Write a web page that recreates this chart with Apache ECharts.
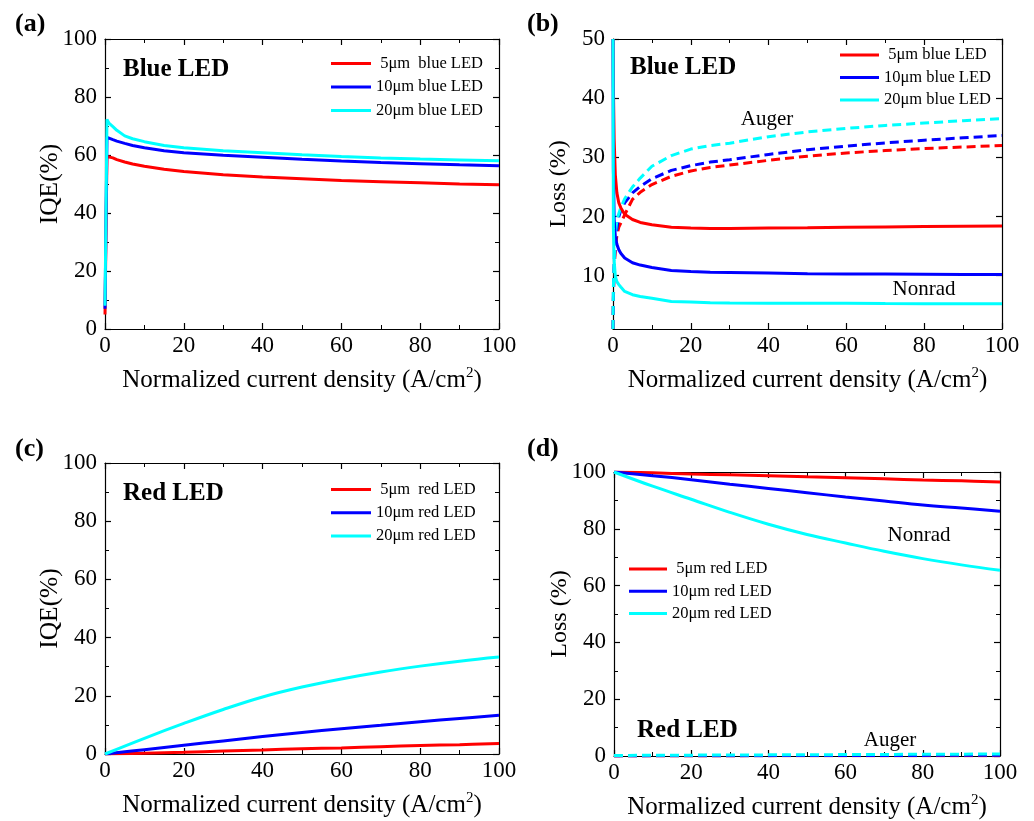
<!DOCTYPE html>
<html>
<head>
<meta charset="utf-8">
<script src="https://cdn.jsdelivr.net/npm/echarts@6/dist/echarts.min.js"></script>
<style>
html,body{margin:0;padding:0;background:#fff;}
#c{width:1034px;height:821px;}
</style>
</head>
<body>
<div id="c"></div>
<script>
// ---------- DATA ----------
// Panel (a): IQE of blue LEDs
const xA = [0, 0.5, 1, 2, 3, 5, 7, 10, 15, 20, 30, 40, 50, 60, 70, 80, 90, 100];
const aRed  = [5, 59.5, 59.6, 59.0, 58.4, 57.6, 56.9, 56.1, 55.1, 54.3, 53.2, 52.4, 51.8, 51.2, 50.8, 50.4, 50.0, 49.7];
const aBlue = [7, 66.1, 65.8, 65.3, 64.8, 64.0, 63.3, 62.5, 61.5, 60.8, 59.9, 59.2, 58.5, 57.9, 57.4, 57.0, 56.6, 56.3];
const aCyan = [8, 72.3, 71.0, 69.8, 68.5, 66.6, 65.6, 64.6, 63.3, 62.5, 61.5, 60.8, 60.1, 59.5, 59.0, 58.6, 58.3, 58.0];

// Panel (b): losses of blue LEDs (solid = Nonrad, dashed = Auger)
const xB = [0, 0.1, 0.3, 0.6, 1, 1.5, 2, 3, 5, 7, 10, 15, 20, 25, 30, 40, 50, 60, 70, 80, 90, 100];
const bRedNon  = [50, 42, 33, 27, 24, 22.3, 21.5, 20.4, 19.5, 19.0, 18.6, 18.2, 18.05, 18.0, 18.0, 18.05, 18.1, 18.2, 18.25, 18.3, 18.35, 18.4];
const bBlueNon = [50, 28, 19.5, 16.6, 15.3, 14.4, 13.8, 13.0, 12.2, 11.8, 11.4, 10.9, 10.7, 10.6, 10.55, 10.45, 10.35, 10.3, 10.3, 10.25, 10.2, 10.2];
const bCyanNon = [50, 18, 12.5, 9.9, 9.0, 8.5, 8.1, 7.35, 6.8, 6.5, 6.2, 5.65, 5.55, 5.45, 5.4, 5.37, 5.35, 5.33, 5.3, 5.28, 5.27, 5.26];
const bRedAug  = [1, 6, 11, 14.5, 16.8, 18.2, 18.9, 20.3, 22.9, 24.1, 25.4, 26.8, 27.7, 28.3, 28.7, 29.5, 30.2, 30.75, 31.15, 31.5, 31.75, 32.0];
const bBlueAug = [1, 7, 12, 15.5, 18, 20, 21, 22.3, 24.0, 25.1, 26.4, 27.8, 28.6, 29.2, 29.6, 30.5, 31.3, 31.9, 32.45, 32.9, 33.3, 33.7];
const bCyanAug = [1, 8, 13, 17, 19.5, 20.5, 21.5, 23.0, 25.0, 26.5, 28.5, 30.3, 31.4, 32.0, 32.4, 33.5, 34.3, 34.9, 35.4, 35.8, 36.2, 36.55];

// Panel (c): IQE of red LEDs
const xC = [0, 10, 20, 30, 40, 50, 60, 70, 80, 90, 100];
const cRed  = [0, 0.3, 0.6, 1.0, 1.4, 1.8, 2.1, 2.5, 2.9, 3.2, 3.6];
const cBlue = [0, 1.5, 3.0, 4.5, 6.0, 7.4, 8.7, 9.9, 11.1, 12.2, 13.3];
const cCyan = [0, 5.4, 10.5, 15.3, 19.6, 23.0, 25.8, 28.2, 30.2, 31.9, 33.3];

// Panel (d): losses of red LEDs
const xD = [0, 10, 20, 30, 40, 50, 60, 70, 80, 90, 100];
const dRedNon  = [100, 99.7, 99.3, 99.0, 98.7, 98.3, 98.0, 97.6, 97.2, 96.9, 96.5];
const dBlueNon = [100, 98.7, 97.3, 95.7, 94.2, 92.7, 91.2, 89.8, 88.4, 87.3, 86.2];
const dCyanNon = [100, 95.0, 90.4, 85.8, 81.6, 78.0, 75.0, 72.1, 69.5, 67.3, 65.4];
const dRedAug  = [0, 0.02, 0.03, 0.04, 0.05, 0.06, 0.07, 0.08, 0.09, 0.1, 0.1];
const dBlueAug = [0, 0.05, 0.08, 0.1, 0.13, 0.15, 0.18, 0.2, 0.22, 0.24, 0.26];
const dCyanAug = [0.2, 0.25, 0.3, 0.35, 0.4, 0.45, 0.5, 0.55, 0.6, 0.65, 0.7];

// Tick labels
const xTicks = [0, 20, 40, 60, 80, 100];
const yTicksIQE = [0, 20, 40, 60, 80, 100];
const yTicksB = [10, 20, 30, 40, 50];

// Legend labels
const legA = [' 5\u03bcm  blue LED', '10\u03bcm blue LED', '20\u03bcm blue LED'];
const legB = [' 5\u03bcm blue LED', '10\u03bcm blue LED ', '20\u03bcm blue LED '];
const legC = [' 5\u03bcm  red LED', '10\u03bcm red LED', '20\u03bcm red LED'];
const legD = [' 5\u03bcm red LED', '10\u03bcm red LED ', '20\u03bcm red LED '];

// ---------- CHART ----------
const FF = '"Liberation Serif","Times New Roman",serif';
const RED = '#ff0000', BLUE = '#0000ff', CYAN = '#00ffff';
const chart = echarts.init(document.getElementById('c'), null, {renderer: 'canvas'});

const grids = [
  {left: 105, top: 39, width: 394, height: 290},
  {left: 613, top: 39, width: 389, height: 290},
  {left: 105, top: 463, width: 394, height: 291},
  {left: 614, top: 472, width: 386, height: 287}
];
const yNames = ['IQE(%)', 'Loss (%)', 'IQE(%)', 'Loss (%)'];
const yNameGaps = [42, 42, 42, 42];

const xName = '{n|Normalized current density (A/cm}{s|2}{n|)}';
const xNameStyle = {rich: {
  n: {fontSize: 25, fontFamily: FF, color: '#000', lineHeight: 28, verticalAlign: 'bottom'},
  s: {fontSize: 15, fontFamily: FF, color: '#000', lineHeight: 15, padding: [0, 0, 12, 0], verticalAlign: 'bottom'}
}};

function lineStyleAx() { return {color: '#000', width: 1.2}; }
const labelStyle = {fontSize: 23, fontFamily: FF, color: '#000'};

const xAxes = [], yAxes = [];
grids.forEach((g, i) => {
  const base = {
    type: 'value', gridIndex: i, min: 0, max: 100, interval: 20,
    axisLine: {show: true, onZero: false, lineStyle: lineStyleAx()},
    axisTick: {show: true, inside: true, length: 6, lineStyle: lineStyleAx()},
    minorTick: {show: true, splitNumber: 2, length: 4, lineStyle: {color: '#000', width: 1}},
    splitLine: {show: false}
  };
  xAxes.push(Object.assign({}, base, {
    position: 'bottom',
    axisLabel: Object.assign({margin: 5, customValues: xTicks}, labelStyle),
    name: xName, nameLocation: 'middle', nameGap: 36, nameTextStyle: xNameStyle
  }));
  xAxes.push(Object.assign({}, base, {position: 'top', axisLabel: {show: false}}));

  let yb;
  let ticks;
  if (i === 1) {
    yb = {
      type: 'value', gridIndex: i, min: 1, max: 50,
      axisLine: {show: true, onZero: false, lineStyle: lineStyleAx()},
      axisTick: {show: true, inside: true, length: 6, lineStyle: lineStyleAx(), customValues: yTicksB},
      splitLine: {show: false}
    };
    ticks = yTicksB;
  } else {
    yb = Object.assign({}, base);
    ticks = yTicksIQE;
  }
  yAxes.push(Object.assign({}, yb, {
    position: 'left',
    axisLabel: Object.assign({margin: 8, customValues: ticks}, labelStyle),
    name: yNames[i], nameLocation: 'middle', nameGap: yNameGaps[i], nameMoveOverlap: false,
    nameTextStyle: {fontSize: (i === 1 || i === 3) ? 24 : 25.5, fontFamily: FF, color: '#000'}
  }));
  yAxes.push(Object.assign({}, yb, {position: 'right', axisLabel: {show: false}}));
});

function pairs(xs, ys) { return xs.map((x, k) => [x, ys[k]]); }
function ser(name, xs, ys, color, panel, dashed, smooth) {
  return {
    name: name, type: 'line', xAxisIndex: panel * 2, yAxisIndex: panel * 2,
    data: pairs(xs, ys), showSymbol: false, symbol: 'none',
    smooth: smooth || false, silent: true, animation: false,
    lineStyle: {color: color, width: 3, type: dashed ? [9, 5] : 'solid'},
    itemStyle: {color: color}
  };
}

const series = [
  ser(legA[0], xA, aRed, RED, 0), ser(legA[1], xA, aBlue, BLUE, 0), ser(legA[2], xA, aCyan, CYAN, 0),
  ser('bRA', xB, bRedAug, RED, 1, true), ser('bBA', xB, bBlueAug, BLUE, 1, true), ser('bCA', xB, bCyanAug, CYAN, 1, true),
  ser(legB[0], xB, bRedNon, RED, 1), ser(legB[1], xB, bBlueNon, BLUE, 1), ser(legB[2], xB, bCyanNon, CYAN, 1),
  ser(legC[0], xC, cRed, RED, 2, false, 0.4), ser(legC[1], xC, cBlue, BLUE, 2, false, 0.4), ser(legC[2], xC, cCyan, CYAN, 2, false, 0.4),
  ser('dRA', xD, dRedAug, RED, 3, true), ser('dBA', xD, dBlueAug, BLUE, 3, true), ser('dCA', xD, dCyanAug, CYAN, 3, true),
  ser(legD[0], xD, dRedNon, RED, 3, false, 0.4), ser(legD[1], xD, dBlueNon, BLUE, 3, false, 0.4), ser(legD[2], xD, dCyanNon, CYAN, 3, false, 0.4)
];

function legend(names, left, top, w, gap) {
  return {
    data: names.map(n => ({name: n})), orient: 'vertical', left: left, top: top, padding: 0,
    icon: 'rect', itemWidth: w, itemHeight: 3, itemGap: gap, selectedMode: false,
    formatter: function (n) { return n.replace(/ +$/, ''); },
    textStyle: {fontSize: 16.5, fontFamily: FF, color: '#000', lineHeight: 17}
  };
}

function txt(t, x, y, size, bold, align) {
  return {type: 'text', x: x, y: y, silent: true,
    style: {text: t, x: 0, y: 0, fill: '#000', font: (bold ? 'bold ' : '') + size + 'px ' + FF,
      align: align || 'left', verticalAlign: 'middle'}};
}

chart.setOption({
  backgroundColor: '#fff',
  animation: false,
  grid: grids,
  xAxis: xAxes,
  yAxis: yAxes,
  legend: [
    legend(legA, 331, 55, 40, 6.5),
    legend(legB, 840, 46.5, 39, 5.5),
    legend(legC, 331, 481, 40, 6.3),
    legend(legD, 629, 560.5, 38, 5.3)
  ],
  series: series,
  graphic: [
    txt('(a)', 15, 24, 26, true), txt('(b)', 527, 24, 26, true),
    txt('(c)', 15, 449, 26, true), txt('(d)', 527, 449, 26, true),
    txt('Blue LED', 123, 70, 25, true), txt('Blue LED', 630, 68, 25, true),
    txt('Red LED', 123, 494, 25, true), txt('Red LED', 637, 731, 25, true),
    txt('Auger', 767, 119, 21, false, 'center'), txt('Nonrad', 924, 289, 21, false, 'center'),
    txt('Nonrad', 919, 535, 21, false, 'center'), txt('Auger', 890, 740, 21, false, 'center')
  ]
});
</script>
</body>
</html>
